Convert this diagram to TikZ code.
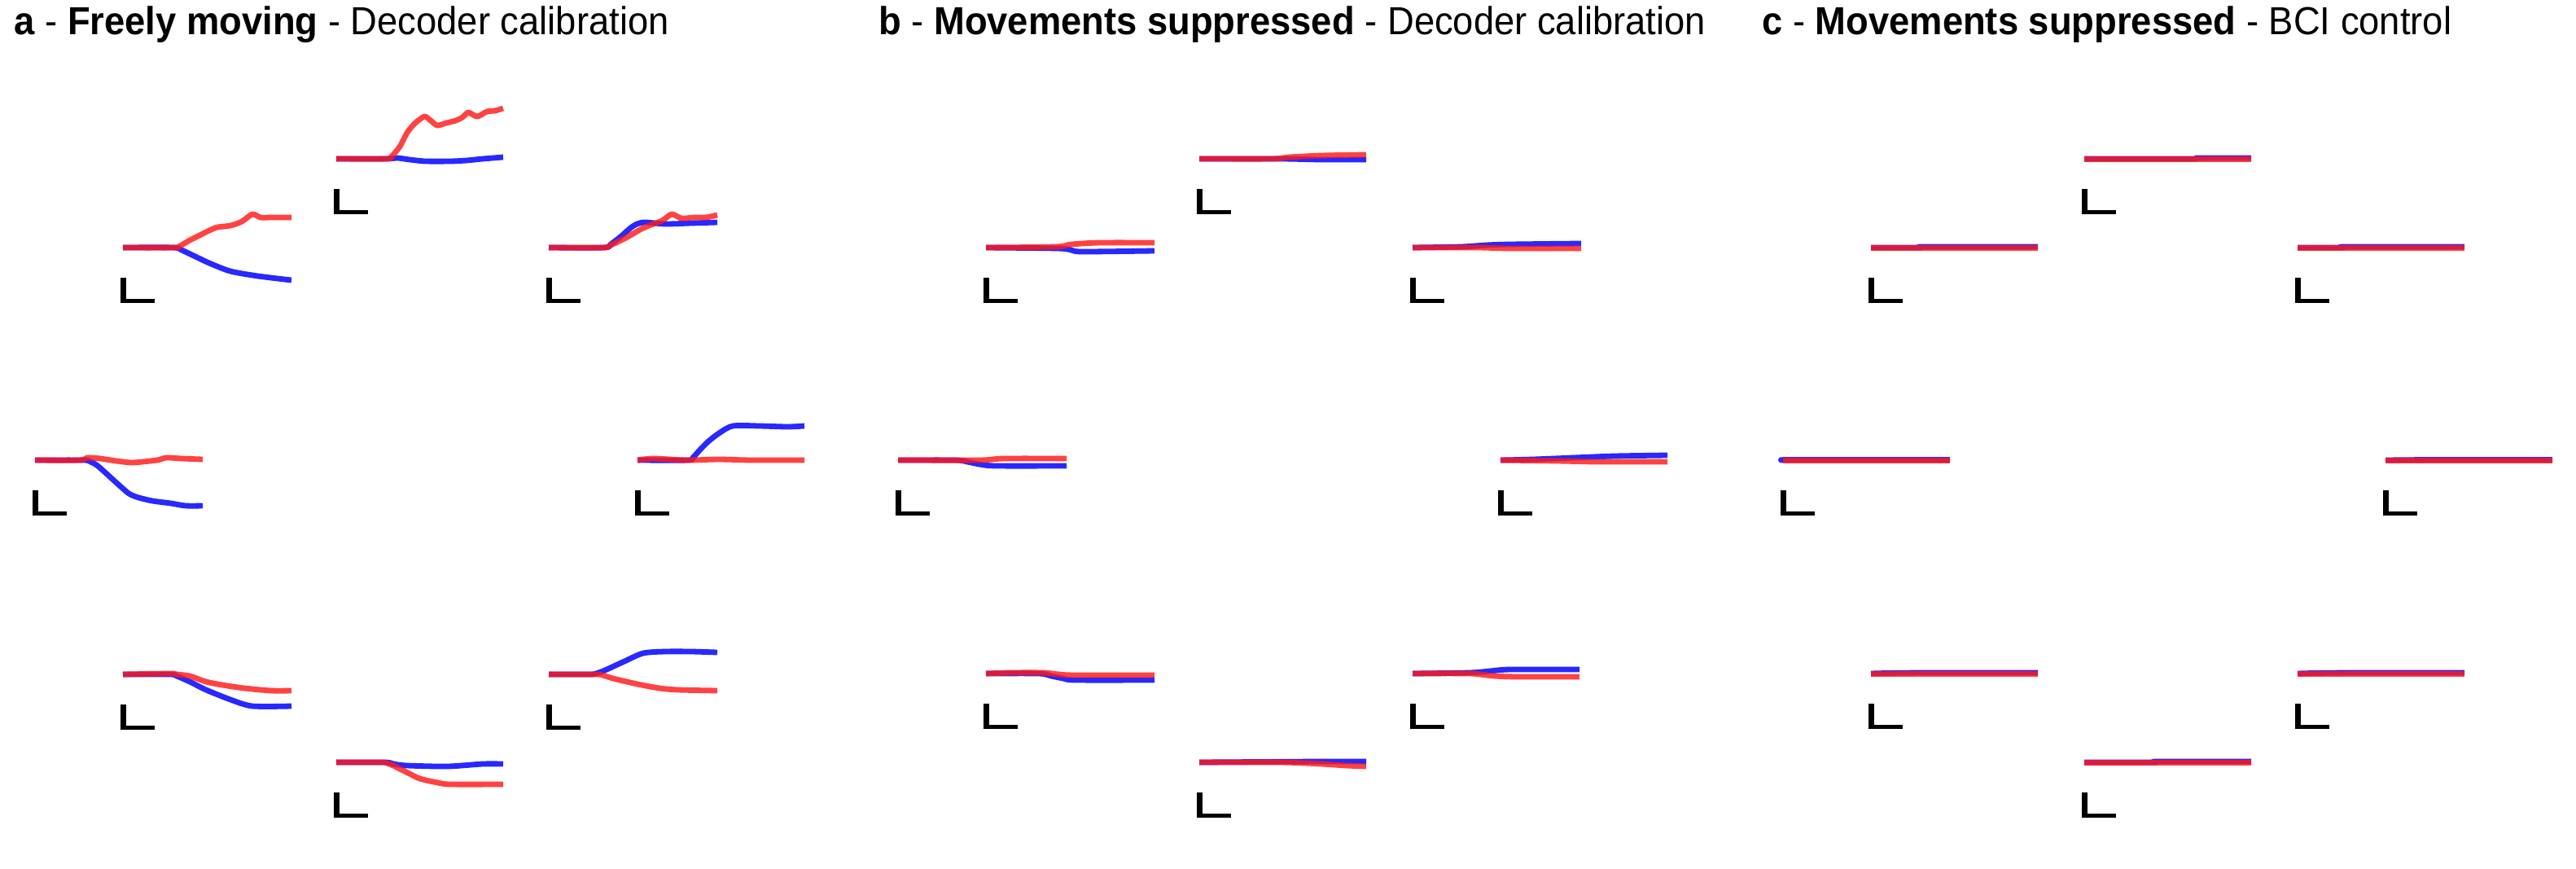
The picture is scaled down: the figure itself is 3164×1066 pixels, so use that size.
\documentclass[tikz,border=0pt]{standalone}
\usepackage{fontspec}
\setmainfont{Liberation Sans}
\usepackage{graphicx}
\definecolor{trblue}{RGB}{40,40,255}
\definecolor{trred}{RGB}{255,25,25}
\tikzset{
  bluetr/.style={draw=trblue, line width=6.8pt, line join=round, line cap=butt},
  redtr/.style={draw=trred, draw opacity=0.82, line width=6.8pt, line join=round, line cap=butt},
  titletext/.style={inner sep=0pt, anchor=base west, font=\fontsize{48}{58}\selectfont},
}
\newcommand{\unitplot}[4]{%
  \begin{scope}[shift={(#1,#2)}]
    \draw[bluetr] plot[smooth, tension=0.45] coordinates {#3};
    \draw[redtr] plot[smooth, tension=0.45] coordinates {#4};
    \fill[black] (-3.5,37) rectangle (4,68);
    \fill[black] (-3.5,62.5) rectangle (38.5,68);
  \end{scope}}
\begin{document}
\begin{tikzpicture}[x=1pt,y=-1pt]
\useasboundingbox[fill=white] (0,0) rectangle (3164,1066);

% Titles
\node[titletext] (ta) at (17,42) {\scalebox{0.945}[1]{\textbf{a} - \textbf{Freely moving} - Decoder calibration}};
\node[titletext] (tb) at (1079,42) {\scalebox{0.945}[1]{\textbf{b} - \textbf{Movements suppressed} - Decoder calibration}};
\node[titletext] (tc) at (2164,42) {\scalebox{0.945}[1]{\textbf{c} - \textbf{Movements suppressed} - BCI control}};

% ---------------- Panel a ----------------
% top
\unitplot{413}{195}
 {(0,0) (60,0) (75,-1) (90,1) (110,3) (140,3) (160,2) (180,0) (205,-2)}
 {(0,0) (62,0) (68,-3) (78,-15) (87,-32) (95,-42) (102,-48) (109,-52) (116,-47) (124,-41) (135,-44) (147,-47) (155,-51) (162,-57) (168,-54) (174,-52) (185,-58) (195,-59) (205,-62)}
% upper left
\unitplot{151}{304}
 {(0,0) (62,0) (72,3) (89,11) (106,19) (132,29) (166,35) (207,40)}
 {(0,0) (62,0) (70,-2) (82,-9) (96,-16) (106,-21) (116,-25) (132,-27) (146,-32) (159,-41) (169,-37) (182,-37) (207,-37)}
% upper right
\unitplot{674}{304}
 {(0,0) (68,0) (76,-4) (89,-14) (103,-26) (116,-31) (143,-29) (175,-30) (207,-31)}
 {(0,0) (66,0) (74,-2) (93,-11) (116,-24) (139,-33) (151,-41) (163,-36) (179,-37) (193,-37) (207,-40)}
% left
\unitplot{43}{565}
 {(0,0) (60,0) (68,2) (77,7) (97,25) (114,40) (124,45) (144,50) (167,53) (185,56) (206,56)}
 {(0,0) (55,0) (64,-3) (80,-2) (100,1) (118,3) (132,2) (150,0) (162,-3) (180,-2) (206,-1)}
% right
\unitplot{783}{565}
 {(0,0) (62,0) (68,-3) (77,-13) (87,-23) (100,-33) (117,-42) (150,-42) (184,-41) (205,-42)}
 {(0,0) (20,-2) (60,0) (100,-1) (140,0) (205,0)}
% lower left
\unitplot{151}{828}
 {(0,0) (58,0) (66,2) (82,9) (102,19) (132,31) (159,39) (207,39)}
 {(0,0) (58,-1) (66,0) (82,2) (102,9) (122,13) (149,17) (182,20) (207,20)}
% lower right
\unitplot{674}{828}
 {(0,0) (50,0) (58,-1) (69,-5) (93,-16) (116,-26) (143,-28) (175,-28) (207,-27)}
 {(0,0) (58,0) (66,1) (79,5) (109,12) (136,17) (159,19) (207,20)}
% bottom
\unitplot{413}{936}
 {(0,0) (60,0) (70,2) (87,4) (137,5) (180,2) (205,2)}
 {(0,0) (55,0) (62,1) (70,4) (80,9) (90,14) (100,19) (110,22) (125,25) (140,27) (205,27)}

% ---------------- Panel b ----------------
\unitplot{1473}{195}
 {(0,0) (100,0) (150,1) (205,1)}
 {(0,0) (90,0) (110,-2) (150,-4) (205,-5)}
\unitplot{1211}{304}
 {(0,0) (88,1) (105,3) (118,5) (207,4)}
 {(0,0) (85,-1) (105,-4) (140,-6) (207,-6)}
\unitplot{1735}{304}
 {(0,0) (60,-1) (90,-3) (120,-4) (207,-5)}
 {(0,0) (80,0) (120,1) (207,1)}
\unitplot{1103}{565}
 {(0,0) (70,0) (85,2) (100,5) (120,7) (207,7)}
 {(0,0) (100,0) (130,-2) (207,-2)}
\unitplot{1843}{565}
 {(0,0) (40,-1) (90,-3) (140,-5) (205,-6)}
 {(0,0) (70,1) (120,2) (205,2)}
\unitplot{1211}{827}
 {(0,0) (65,0) (80,3) (95,6) (110,8) (207,8)}
 {(0,0) (30,-1) (70,-1) (90,1) (110,2) (207,2)}
\unitplot{1735}{827}
 {(0,0) (70,-1) (95,-3) (120,-5) (205,-5)}
 {(0,0) (70,0) (100,3) (130,4) (205,4)}
\unitplot{1473}{936}
 {(0,0) (150,-1) (205,-1)}
 {(0,0) (100,0) (150,2) (180,4) (205,5)}

% ---------------- Panel c ----------------
\unitplot{2560}{195}
 {(0,0) (130,0) (140,-1) (205,-1)}
 {(0,0.3) (205,0.3)}
\unitplot{2298}{304}
 {(0,0) (60,0) (66,-1) (205,-1)}
 {(0,0.3) (205,0.3)}
\unitplot{2822}{304}
 {(0,0) (55,0) (60,-1) (205,-1)}
 {(0,0.3) (205,0.3)}
\unitplot{2190}{565}
 {(0,0) (14,-0.5) (205,-0.5)}
 {(0,0.3) (205,0.3)}
\unitplot{2930}{565}
 {(0,0) (60,-0.5) (205,-0.5)}
 {(0,0.3) (205,0.3)}
\unitplot{2298}{827}
 {(0,0) (20,-0.5) (70,-1) (205,-1)}
 {(0,0.3) (205,0.3)}
\unitplot{2822}{827}
 {(0,0) (20,-0.5) (70,-1) (205,-1)}
 {(0,0.3) (205,0.3)}
\unitplot{2560}{936}
 {(0,0) (85,0) (90,-1) (205,-1)}
 {(0,0.3) (205,0.3)}
\end{tikzpicture}
\end{document}
